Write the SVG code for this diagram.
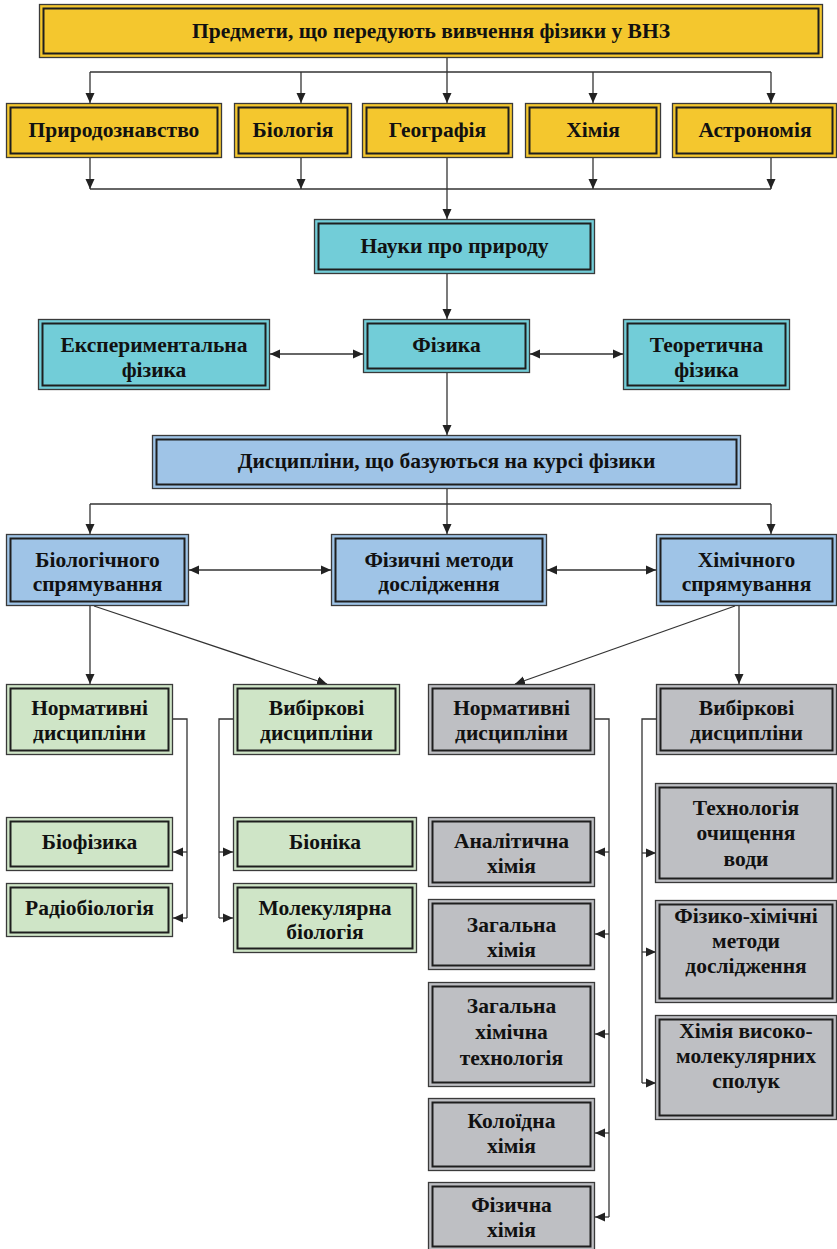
<svg xmlns="http://www.w3.org/2000/svg" width="837" height="1249" viewBox="0 0 837 1249">
<style>
.o{stroke:#3a3a3a;stroke-width:1.3}
.i{fill:none;stroke:#1e1e1e;stroke-width:2}
.y{fill:#F4C72E}
.t{fill:#72CDD8}
.b{fill:#9FC4E7}
.g{fill:#CFE5C7}
.s{fill:#BEBFC3}
text{font-family:'Liberation Serif','DejaVu Serif',serif;font-weight:bold;font-size:21.5px;fill:#111;text-anchor:middle}
.c line,.c polyline{fill:none;stroke:#333;stroke-width:1.3}
</style>
<defs>
<marker id="ah" markerUnits="userSpaceOnUse" markerWidth="10" markerHeight="10" refX="10" refY="5" orient="auto-start-reverse" viewBox="0 0 10 10">
<path d="M0,0.5 L10,5 L0,9.5 z" fill="#222"/>
</marker>
</defs>

<g class="c" id="connectors">
<line x1="90" y1="72" x2="771" y2="72"/>
<line x1="447" y1="58" x2="447" y2="103" marker-end="url(#ah)"/>
<line x1="90" y1="72" x2="90" y2="103" marker-end="url(#ah)"/>
<line x1="301" y1="72" x2="301" y2="103" marker-end="url(#ah)"/>
<line x1="593" y1="72" x2="593" y2="103" marker-end="url(#ah)"/>
<line x1="771" y1="72" x2="771" y2="103" marker-end="url(#ah)"/>
<line x1="90" y1="189" x2="771" y2="189"/>
<line x1="90" y1="158" x2="90" y2="189" marker-end="url(#ah)"/>
<line x1="301" y1="158" x2="301" y2="189" marker-end="url(#ah)"/>
<line x1="593" y1="158" x2="593" y2="189" marker-end="url(#ah)"/>
<line x1="771" y1="158" x2="771" y2="189" marker-end="url(#ah)"/>
<line x1="447" y1="158" x2="447" y2="219" marker-end="url(#ah)"/>
<line x1="447" y1="274" x2="447" y2="319" marker-end="url(#ah)"/>
<line x1="270" y1="354" x2="363" y2="354" marker-start="url(#ah)" marker-end="url(#ah)"/>
<line x1="530" y1="354" x2="623" y2="354" marker-start="url(#ah)" marker-end="url(#ah)"/>
<line x1="447" y1="373" x2="447" y2="435" marker-end="url(#ah)"/>
<line x1="90" y1="504" x2="771" y2="504"/>
<line x1="90" y1="504" x2="90" y2="534" marker-end="url(#ah)"/>
<line x1="771" y1="504" x2="771" y2="534" marker-end="url(#ah)"/>
<line x1="447" y1="489" x2="447" y2="534" marker-end="url(#ah)"/>
<line x1="189" y1="570" x2="331" y2="570" marker-start="url(#ah)" marker-end="url(#ah)"/>
<line x1="547" y1="570" x2="656" y2="570" marker-start="url(#ah)" marker-end="url(#ah)"/>
<line x1="90" y1="606" x2="90" y2="684" marker-end="url(#ah)"/>
<line x1="94" y1="606" x2="327" y2="684" marker-end="url(#ah)"/>
<line x1="739" y1="606" x2="739" y2="684" marker-end="url(#ah)"/>
<line x1="735" y1="606" x2="515" y2="684" marker-end="url(#ah)"/>
<polyline points="173,719 187,719 187,918"/>
<line x1="187" y1="852" x2="173" y2="852" marker-end="url(#ah)"/>
<line x1="187" y1="918" x2="173" y2="918" marker-end="url(#ah)"/>
<polyline points="233,719 219,719 219,918"/>
<line x1="219" y1="852" x2="233" y2="852" marker-end="url(#ah)"/>
<line x1="219" y1="918" x2="233" y2="918" marker-end="url(#ah)"/>
<polyline points="595,719 609,719 609,1217"/>
<line x1="609" y1="852" x2="595" y2="852" marker-end="url(#ah)"/>
<line x1="609" y1="934" x2="595" y2="934" marker-end="url(#ah)"/>
<line x1="609" y1="1034" x2="595" y2="1034" marker-end="url(#ah)"/>
<line x1="609" y1="1133" x2="595" y2="1133" marker-end="url(#ah)"/>
<line x1="609" y1="1217" x2="595" y2="1217" marker-end="url(#ah)"/>
<polyline points="656,719 642,719 642,1083"/>
<line x1="642" y1="853" x2="656" y2="853" marker-end="url(#ah)"/>
<line x1="642" y1="952" x2="656" y2="952" marker-end="url(#ah)"/>
<line x1="642" y1="1083" x2="656" y2="1083" marker-end="url(#ah)"/>
</g>

<g id="n-title"><rect class="o y" x="39.5" y="4.5" width="783" height="53"/><rect class="i" x="43.5" y="8.5" width="775" height="45"/><text x="431" y="38">Предмети, що передують вивчення фізики у ВНЗ</text></g>

<g id="n-pryrod"><rect class="o y" x="6.5" y="103.5" width="215" height="54"/><rect class="i" x="10.5" y="107.5" width="207" height="46"/><text x="114" y="137">Природознавство</text></g>
<g id="n-biol"><rect class="o y" x="234.5" y="103.5" width="117" height="54"/><rect class="i" x="238.5" y="107.5" width="109" height="46"/><text x="293" y="137">Біологія</text></g>
<g id="n-geo"><rect class="o y" x="362.5" y="103.5" width="150" height="54"/><rect class="i" x="366.5" y="107.5" width="142" height="46"/><text x="437.5" y="137">Географія</text></g>
<g id="n-khim"><rect class="o y" x="525.5" y="103.5" width="135" height="54"/><rect class="i" x="529.5" y="107.5" width="127" height="46"/><text x="593" y="137">Хімія</text></g>
<g id="n-astr"><rect class="o y" x="672.5" y="103.5" width="164" height="54"/><rect class="i" x="676.5" y="107.5" width="156" height="46"/><text x="755" y="137">Астрономія</text></g>

<g id="n-nauky"><rect class="o t" x="314.5" y="219.5" width="280" height="54"/><rect class="i" x="318.5" y="223.5" width="272" height="46"/><text x="454.5" y="253">Науки про природу</text></g>

<g id="n-eksp"><rect class="o t" x="38.5" y="319.5" width="231" height="70"/><rect class="i" x="42.5" y="323.5" width="223" height="62"/><text x="154" y="352">Експериментальна</text><text x="154" y="377">фізика</text></g>
<g id="n-fizyka"><rect class="o t" x="363.5" y="319.5" width="166" height="53"/><rect class="i" x="367.5" y="323.5" width="158" height="45"/><text x="446.5" y="352">Фізика</text></g>
<g id="n-teor"><rect class="o t" x="623.5" y="319.5" width="166" height="70"/><rect class="i" x="627.5" y="323.5" width="158" height="62"/><text x="706.5" y="352">Теоретична</text><text x="706.5" y="377">фізика</text></g>

<g id="n-dysc"><rect class="o b" x="152.5" y="435.5" width="588" height="53"/><rect class="i" x="156.5" y="439.5" width="580" height="45"/><text x="446.5" y="468">Дисципліни, що базуються на курсі фізики</text></g>

<g id="n-biospr"><rect class="o b" x="6.5" y="534.5" width="182" height="71"/><rect class="i" x="10.5" y="538.5" width="174" height="63"/><text x="97.5" y="567">Біологічного</text><text x="97.5" y="591">спрямування</text></g>
<g id="n-fizmet"><rect class="o b" x="331.5" y="534.5" width="215" height="71"/><rect class="i" x="335.5" y="538.5" width="207" height="63"/><text x="439" y="567">Фізичні методи</text><text x="439" y="591">дослідження</text></g>
<g id="n-khimspr"><rect class="o b" x="656.5" y="534.5" width="180" height="71"/><rect class="i" x="660.5" y="538.5" width="172" height="63"/><text x="746.5" y="567">Хімічного</text><text x="746.5" y="591">спрямування</text></g>

<g id="n-norm-b"><rect class="o g" x="6.5" y="684.5" width="166" height="70"/><rect class="i" x="10.5" y="688.5" width="158" height="62"/><text x="89.5" y="715">Нормативні</text><text x="89.5" y="740">дисципліни</text></g>
<g id="n-vyb-b"><rect class="o g" x="233.5" y="684.5" width="166" height="70"/><rect class="i" x="237.5" y="688.5" width="158" height="62"/><text x="316.5" y="715">Вибіркові</text><text x="316.5" y="740">дисципліни</text></g>
<g id="n-biofiz"><rect class="o g" x="6.5" y="817.5" width="166" height="53"/><rect class="i" x="10.5" y="821.5" width="158" height="45"/><text x="89.5" y="849">Біофізика</text></g>
<g id="n-radio"><rect class="o g" x="6.5" y="883.5" width="166" height="53"/><rect class="i" x="10.5" y="887.5" width="158" height="45"/><text x="89.5" y="915">Радіобіологія</text></g>
<g id="n-bionika"><rect class="o g" x="233.5" y="817.5" width="183" height="53"/><rect class="i" x="237.5" y="821.5" width="175" height="45"/><text x="325" y="849">Біоніка</text></g>
<g id="n-molbio"><rect class="o g" x="233.5" y="883.5" width="183" height="69"/><rect class="i" x="237.5" y="887.5" width="175" height="61"/><text x="325" y="915">Молекулярна</text><text x="325" y="939">біологія</text></g>

<g id="n-norm-k"><rect class="o s" x="428.5" y="684.5" width="166" height="70"/><rect class="i" x="432.5" y="688.5" width="158" height="62"/><text x="511.5" y="715">Нормативні</text><text x="511.5" y="740">дисципліни</text></g>
<g id="n-vyb-k"><rect class="o s" x="656.5" y="684.5" width="180" height="70"/><rect class="i" x="660.5" y="688.5" width="172" height="62"/><text x="746.5" y="715">Вибіркові</text><text x="746.5" y="740">дисципліни</text></g>

<g id="n-anal"><rect class="o s" x="428.5" y="817.5" width="166" height="69"/><rect class="i" x="432.5" y="821.5" width="158" height="61"/><text x="511.5" y="848">Аналітична</text><text x="511.5" y="873">хімія</text></g>
<g id="n-zag"><rect class="o s" x="428.5" y="899.5" width="166" height="70"/><rect class="i" x="432.5" y="903.5" width="158" height="62"/><text x="511.5" y="932">Загальна</text><text x="511.5" y="957">хімія</text></g>
<g id="n-zagtech"><rect class="o s" x="428.5" y="982.5" width="166" height="104"/><rect class="i" x="432.5" y="986.5" width="158" height="96"/><text x="511.5" y="1013">Загальна</text><text x="511.5" y="1039">хімічна</text><text x="511.5" y="1065">технологія</text></g>
<g id="n-koloid"><rect class="o s" x="428.5" y="1098.5" width="166" height="72"/><rect class="i" x="432.5" y="1102.5" width="158" height="64"/><text x="511.5" y="1128">Колоїдна</text><text x="511.5" y="1153">хімія</text></g>
<g id="n-fizkh"><rect class="o s" x="428.5" y="1182.5" width="166" height="68"/><rect class="i" x="432.5" y="1186.5" width="158" height="60"/><text x="511.5" y="1212">Фізична</text><text x="511.5" y="1237">хімія</text></g>

<g id="n-voda"><rect class="o s" x="655.5" y="783.5" width="181" height="99"/><rect class="i" x="659.5" y="787.5" width="173" height="91"/><text x="746" y="815">Технологія</text><text x="746" y="840">очищення</text><text x="746" y="866">води</text></g>
<g id="n-fizkhmet"><rect class="o s" x="655.5" y="900.5" width="181" height="102"/><rect class="i" x="659.5" y="904.5" width="173" height="94"/><text x="746" y="923">Фізико-хімічні</text><text x="746" y="948">методи</text><text x="746" y="973">дослідження</text></g>
<g id="n-vysoko"><rect class="o s" x="655.5" y="1015.5" width="181" height="104"/><rect class="i" x="659.5" y="1019.5" width="173" height="96"/><text x="746" y="1038">Хімія високо-</text><text x="746" y="1063">молекулярних</text><text x="746" y="1088">сполук</text></g>
</svg>
